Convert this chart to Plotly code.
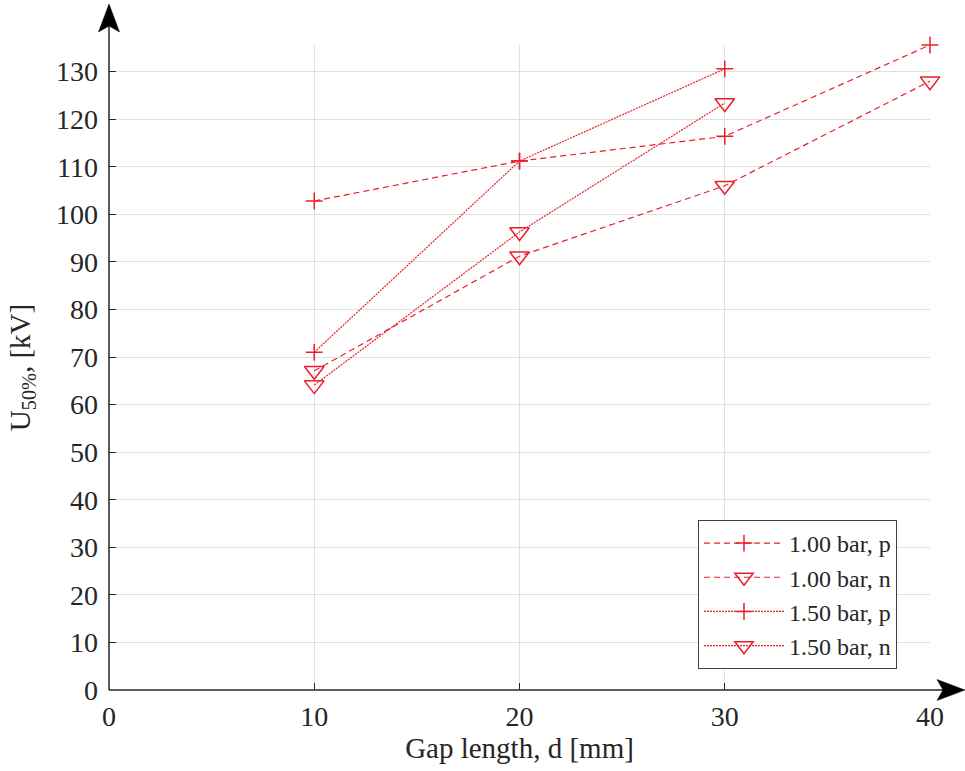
import plotly.graph_objects as go

# Gap length [mm]
gap_1bar = [10, 20, 30, 40]
gap_15bar = [10, 20, 30]

# 50 % breakdown voltage [kV]
u50_1bar_p = [102.8, 111.2, 116.4, 135.6]
u50_1bar_n = [67.1, 91.2, 106.0, 128.0]
u50_15bar_p = [71.0, 111.2, 130.6]
u50_15bar_n = [64.1, 96.3, 123.4]

series_names = ["1.00 bar, p", "1.00 bar, n", "1.50 bar, p", "1.50 bar, n"]

x_ticks = [0, 10, 20, 30, 40]
y_ticks = list(range(0, 131, 10))

RED = "rgb(232,32,40)"
INK = "#262626"
FONT = "Liberation Serif"

fig = go.Figure()


def add_series(x, y, name, dash, symbol, size):
    fig.add_trace(go.Scatter(
        x=x, y=y, name=name, mode="lines+markers", cliponaxis=False,
        line=dict(color=RED, width=1.2, dash=dash),
        marker=dict(symbol=symbol, size=size, color=RED,
                    line=dict(color=RED, width=1.5)),
    ))


add_series(gap_1bar, u50_1bar_p, series_names[0], "6px,4px", "cross-thin", 12)
add_series(gap_1bar, u50_1bar_n, series_names[1], "6px,4px", "triangle-down-open", 17)
add_series(gap_15bar, u50_15bar_p, series_names[2], "2px,1px", "cross-thin", 12)
add_series(gap_15bar, u50_15bar_n, series_names[3], "2px,1px", "triangle-down-open", 17)

axis_common = dict(
    showline=False, zeroline=False,
    showgrid=True, gridcolor="#e0e0e0", gridwidth=1,
    ticks="inside", ticklen=7, tickwidth=1, tickcolor=INK,
    tickfont=dict(family=FONT, size=28, color=INK),
    title_font=dict(family=FONT, size=29, color=INK),
)

fig.update_xaxes(
    range=[0, 40], tickvals=x_ticks, ticktext=[str(v) for v in x_ticks],
    title_text="Gap length, d [mm]", title_standoff=4,
    ticklabelstandoff=7,
    **axis_common,
)
fig.update_yaxes(
    range=[0, 135.6], tickvals=y_ticks, ticktext=[str(v) for v in y_ticks],
    title_text="U<sub>50%</sub>, [kV]", title_standoff=16,
    ticklabelstandoff=10,
    **axis_common,
)

# Axis lines with arrowheads (pixel paths anchored at the plot corners)
fig.add_shape(type="line", xref="paper", yref="paper",
              x0=0, y0=0, x1=0, y1=1, line=dict(color=INK, width=1.5), layer="above")
fig.add_shape(type="path", xref="paper", yref="paper",
              xsizemode="pixel", ysizemode="pixel", xanchor=0, yanchor=1,
              path="M0,0 L0,20", line=dict(color=INK, width=1.5), layer="above")
fig.add_shape(type="path", xref="paper", yref="paper",
              xsizemode="pixel", ysizemode="pixel", xanchor=0, yanchor=1,
              path="M0,41 L-10.5,13 L0,19 L10.5,13 Z",
              fillcolor="black", line=dict(color="black", width=0.5), layer="above")

fig.add_shape(type="line", xref="paper", yref="paper",
              x0=0, y0=0, x1=1, y1=0, line=dict(color=INK, width=1.5), layer="above")
fig.add_shape(type="path", xref="paper", yref="paper",
              xsizemode="pixel", ysizemode="pixel", xanchor=1, yanchor=0,
              path="M0,0 L16,0", line=dict(color=INK, width=1.5), layer="above")
fig.add_shape(type="path", xref="paper", yref="paper",
              xsizemode="pixel", ysizemode="pixel", xanchor=1, yanchor=0,
              path="M35,0 L7,-10.5 L13,0 L7,10.5 Z",
              fillcolor="black", line=dict(color="black", width=0.5), layer="above")

fig.update_layout(
    width=965, height=771,
    margin=dict(l=109, r=35, t=45, b=81, autoexpand=False),
    paper_bgcolor="white", plot_bgcolor="white",
    font=dict(family=FONT, color=INK),
    showlegend=True,
    legend=dict(
        x=0.9598, y=0.0326, xanchor="right", yanchor="bottom",
        bgcolor="white", bordercolor="#404040", borderwidth=1,
        font=dict(family=FONT, size=24, color=INK),
        itemwidth=80, tracegroupgap=0,
    ),
)

fig.write_html("out.html")
